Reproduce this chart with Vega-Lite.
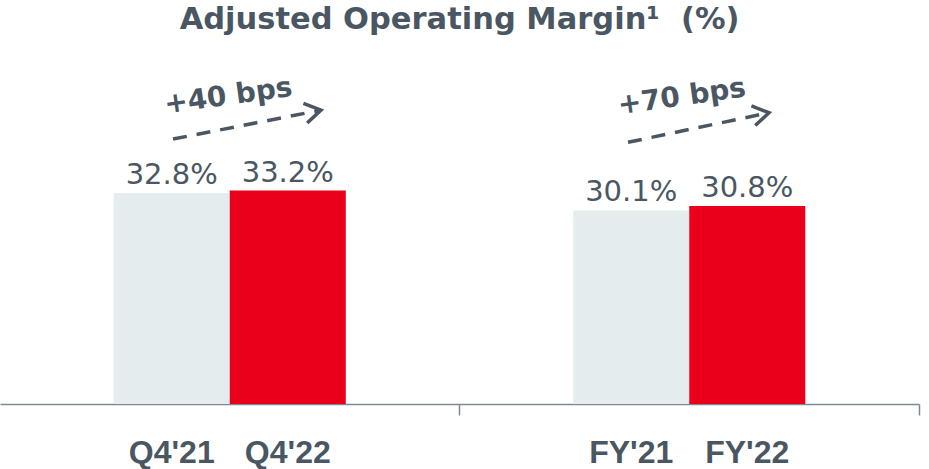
{
  "$schema": "https://vega.github.io/schema/vega-lite/v6.json",
  "width": 919,
  "height": 344,
  "autosize": {"type": "none"},
  "padding": {"left": 0, "top": 60, "right": 10, "bottom": 65},
  "background": "white",
  "title": {
    "text": "Adjusted Operating Margin¹\u00a0 (%)",
    "font": "DejaVu Sans",
    "fontSize": 30.5,
    "fontWeight": "bold",
    "color": "#4a5763",
    "anchor": "middle",
    "baseline": "alphabetic",
    "offset": 1
  },
  "datasets": {
    "bars": [
      {"group": "Q4", "period": "21", "label": "Q4'21", "value": 32.8},
      {"group": "Q4", "period": "22", "label": "Q4'22", "value": 33.2},
      {"group": "FY", "period": "21", "label": "FY'21", "value": 30.1},
      {"group": "FY", "period": "22", "label": "FY'22", "value": 30.8}
    ],
    "arrows": [
      {"group": "Q4", "u": 0.3765, "y": 41.2, "end": false},
      {"group": "Q4", "u": 0.6986, "y": 45.7, "end": true},
      {"group": "FY", "u": 0.3667, "y": 40.7, "end": false},
      {"group": "FY", "u": 0.6736, "y": 45.3, "end": true}
    ],
    "notes": [
      {"group": "Q4", "u": 0.497, "y": 47.8, "note": "+40 bps"},
      {"group": "FY", "u": 0.484, "y": 47.7, "note": "+70 bps"}
    ]
  },
  "resolve": {"scale": {"xOffset": "independent"}},
  "layer": [
    {
      "data": {"name": "bars"},
      "layer": [
        {
          "mark": {"type": "bar"},
          "encoding": {
            "x": {
              "field": "group", "type": "nominal",
              "scale": {"domain": ["Q4", "FY"], "paddingInner": 0, "paddingOuter": 0},
              "axis": {
                "labels": false, "title": null, "bandPosition": 1,
                "tickSize": 11, "tickWidth": 1.5, "tickColor": "#7d8a93",
                "domainColor": "#7d8a93", "domainWidth": 1.5, "grid": false
              }
            },
            "xOffset": {
              "field": "period", "type": "nominal",
              "scale": {"domain": ["21", "22"], "paddingInner": 0, "paddingOuter": 0.98}
            },
            "y": {
              "field": "value", "type": "quantitative",
              "scale": {"domain": [0, 53.5], "nice": false, "zero": true},
              "axis": null
            },
            "color": {
              "field": "period", "type": "nominal",
              "scale": {"domain": ["21", "22"], "range": ["#e4ecee", "#eb001b"]},
              "legend": null
            }
          }
        },
        {
          "mark": {
            "type": "text", "font": "DejaVu Sans", "fontSize": 29,
            "color": "#4a5763", "baseline": "alphabetic", "align": "center", "dy": -9,
            "text": {"expr": "format(datum.value, '.1f') + '%'"}
          },
          "encoding": {
            "x": {"field": "group", "type": "nominal"},
            "xOffset": {"field": "period", "type": "nominal"},
            "y": {"field": "value", "type": "quantitative"}
          }
        },
        {
          "mark": {
            "type": "text", "font": "Liberation Sans", "fontSize": 32, "fontWeight": "bold",
            "color": "#4a5763", "baseline": "alphabetic", "align": "center", "dy": 59
          },
          "encoding": {
            "x": {"field": "group", "type": "nominal"},
            "xOffset": {"field": "period", "type": "nominal"},
            "y": {"datum": 0, "type": "quantitative"},
            "text": {"field": "label"}
          }
        }
      ]
    },
    {
      "data": {"name": "arrows"},
      "layer": [
        {
          "mark": {"type": "line", "color": "#4a5763", "strokeWidth": 3.5, "strokeDash": [14, 10]},
          "encoding": {
            "x": {"field": "group", "type": "nominal"},
            "xOffset": {"field": "u", "type": "quantitative", "scale": {"domain": [0, 1], "nice": false, "zero": false}},
            "y": {"field": "y", "type": "quantitative"},
            "detail": {"field": "group"},
            "order": {"field": "u"}
          }
        },
        {
          "transform": [{"filter": "datum.end"}],
          "mark": {
            "type": "point", "shape": "M-1.6,-1L0,0L-1.6,1", "size": 400,
            "filled": false, "stroke": "#4a5763", "strokeWidth": 3.5, "opacity": 1, "angle": -11
          },
          "encoding": {
            "x": {"field": "group", "type": "nominal"},
            "xOffset": {"field": "u", "type": "quantitative"},
            "y": {"field": "y", "type": "quantitative"}
          }
        }
      ]
    },
    {
      "data": {"name": "notes"},
      "mark": {
        "type": "text", "font": "DejaVu Sans", "fontSize": 28, "fontWeight": "bold",
        "color": "#4a5763", "baseline": "middle", "align": "center", "angle": -8
      },
      "encoding": {
        "x": {"field": "group", "type": "nominal"},
        "xOffset": {"field": "u", "type": "quantitative", "scale": {"domain": [0, 1], "nice": false, "zero": false}},
        "y": {"field": "y", "type": "quantitative"},
        "text": {"field": "note"}
      }
    }
  ],
  "config": {"view": {"stroke": null}}
}
